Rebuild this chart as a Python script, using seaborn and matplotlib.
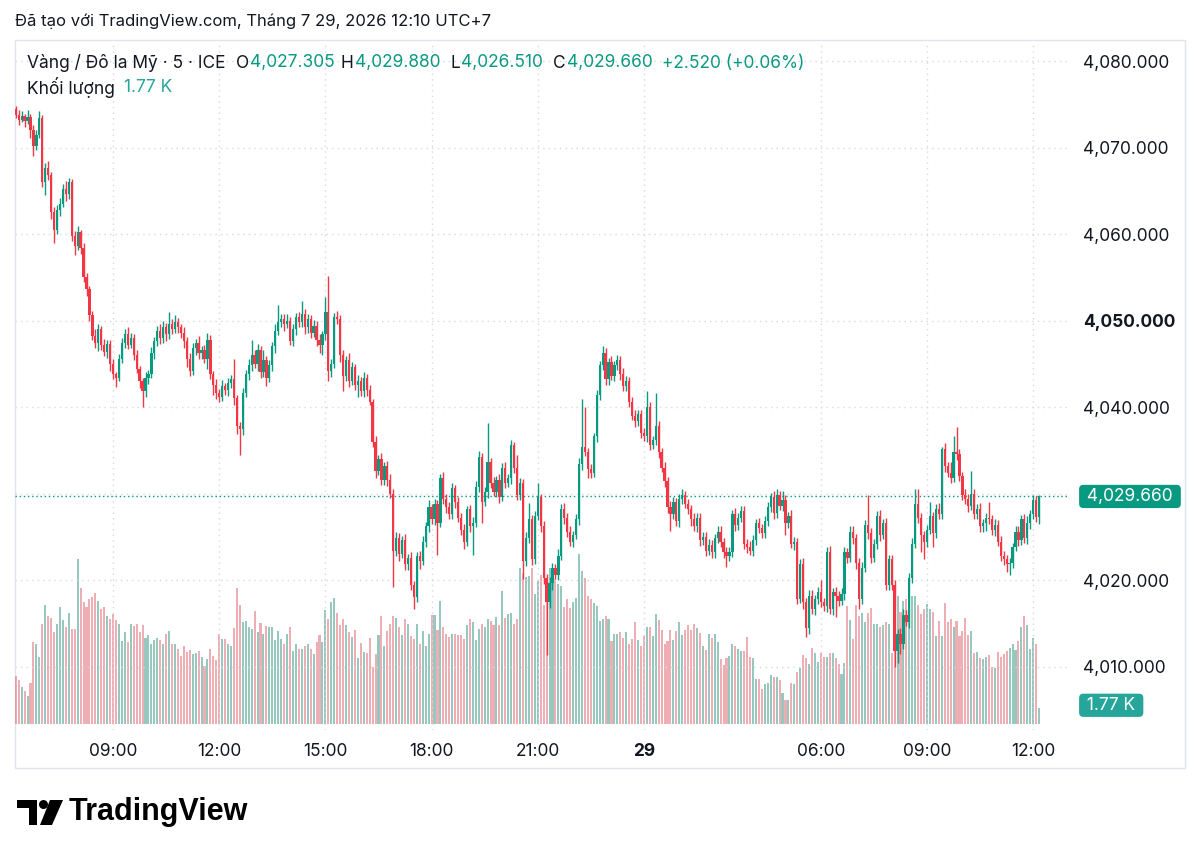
import numpy as np
import pandas as pd
import matplotlib
matplotlib.use("Agg")
import matplotlib.pyplot as plt
import matplotlib.patches as mpatches
from matplotlib.transforms import blended_transform_factory
import seaborn as sns

# 5-minute candles, index 0 = 06:15 on the 28th, last = 12:10 on the 29th
# closes, section by section
close_a = [4073.8, 4073.2, 4073.6, 4073.1, 4073.5, 4072.0, 4070.2, 4071.5, 4073.4, 4066.0,
           4067.6, 4066.8, 4062.5, 4060.5, 4062.8, 4063.5, 4065.2, 4064.6, 4066.0, 4059.8,
           4058.6, 4060.2, 4058.4, 4055.0, 4053.6, 4050.6, 4048.2, 4047.4, 4049.0, 4047.2,
           4046.4, 4047.3, 4045.0, 4043.8, 4043.4, 4045.6, 4047.4, 4048.4, 4047.2, 4048.0,
           4046.0, 4044.4, 4043.0]
close_b = [4041.8, 4043.4, 4043.8, 4046.2, 4047.6, 4048.8, 4048.0, 4049.2, 4048.4, 4049.6,
           4049.0, 4049.8, 4049.2, 4048.6, 4047.6, 4045.6, 4044.2, 4046.8, 4047.4, 4046.2,
           4046.6, 4045.6, 4047.8, 4043.8, 4042.6, 4041.6, 4041.2, 4042.4, 4042.0, 4042.8,
           4043.2, 4041.0, 4037.8, 4037.4, 4041.6, 4043.8, 4044.8, 4046.0, 4045.0, 4046.6,
           4044.0, 4045.4]
close_c = [4043.4, 4044.8, 4047.0, 4048.8, 4049.8, 4050.2, 4049.6, 4050.0, 4047.6, 4049.0,
           4050.4, 4049.8, 4050.8, 4049.2, 4050.2, 4048.6, 4049.4, 4047.8, 4047.2, 4048.4,
           4051.0, 4044.2, 4045.0, 4050.4, 4050.2, 4046.0, 4043.6, 4045.4, 4043.0, 4044.6,
           4042.6, 4043.0, 4041.8, 4043.4, 4042.0, 4040.6, 4036.0, 4032.6, 4034.0, 4031.6,
           4033.2, 4031.6]
close_d = [4030.0, 4023.4, 4024.8, 4023.0, 4024.6, 4021.8, 4022.6, 4019.4, 4018.0, 4022.8,
           4022.2, 4024.4, 4026.2, 4028.4, 4027.0, 4028.8, 4026.6, 4031.8, 4029.4, 4028.4,
           4027.6, 4030.6, 4029.0, 4027.2, 4025.8, 4024.4, 4028.2, 4026.2, 4026.6, 4030.8,
           4034.2, 4029.0, 4030.2, 4033.6, 4031.2, 4030.2, 4031.6, 4029.6, 4033.0, 4031.2,
           4031.8, 4035.6, 4033.0]
close_e = [4029.8, 4031.2, 4022.2, 4024.8, 4027.0, 4022.4, 4027.4, 4029.6, 4026.2, 4020.2,
           4017.4, 4019.6, 4021.4, 4020.6, 4022.8, 4028.2, 4027.2, 4025.6, 4024.4, 4025.2,
           4027.0, 4033.4, 4035.4, 4034.8, 4032.8, 4032.4, 4036.6, 4041.4, 4044.8, 4046.2,
           4043.2, 4045.2, 4043.6, 4044.8, 4045.4, 4043.8, 4042.4, 4043.0, 4040.6, 4039.0,
           4038.4, 4039.2]
close_f = [4037.0, 4036.6, 4040.0, 4035.6, 4036.2, 4037.8, 4034.8, 4033.0, 4031.4, 4028.4,
           4027.6, 4029.0, 4026.8, 4029.4, 4029.8, 4028.8, 4028.2, 4027.0, 4026.2, 4027.2,
           4024.6, 4025.0, 4023.4, 4024.0, 4023.2, 4024.8, 4025.6, 4024.4, 4023.2, 4022.8,
           4023.2, 4027.6, 4026.4, 4027.2, 4028.0, 4024.2, 4023.8, 4023.4, 4024.6, 4026.6,
           4026.0, 4025.4, 4026.8]
close_g = [4028.4, 4029.6, 4027.8, 4029.8, 4028.6, 4029.2, 4026.6, 4027.4, 4024.2, 4024.4,
           4017.8, 4021.8, 4017.4, 4014.4, 4018.2, 4016.6, 4017.8, 4018.6, 4017.4, 4017.0,
           4023.2, 4016.6, 4018.6, 4018.2, 4017.6, 4018.4, 4023.2, 4022.6, 4025.6, 4024.8,
           4022.0, 4017.8, 4021.4, 4026.4, 4025.4, 4022.6, 4024.2, 4027.4, 4025.2, 4026.6,
           4019.4, 4022.4]
close_h = [4019.4, 4011.8, 4013.8, 4012.6, 4016.0, 4015.2, 4020.2, 4024.2, 4028.8, 4027.2,
           4025.2, 4024.4, 4025.8, 4027.4, 4025.4, 4028.2, 4027.6, 4035.2, 4033.2, 4032.4,
           4031.8, 4034.8, 4034.6, 4032.0, 4029.8, 4029.4, 4028.6, 4030.0, 4027.6, 4028.2,
           4026.2, 4026.6, 4027.2, 4027.0, 4025.8, 4026.4, 4024.4, 4022.8, 4022.4, 4021.8,
           4022.0, 4023.8, 4025.6, 4024.6, 4027.0, 4024.8, 4026.6, 4027.6, 4029.2, 4027.305,
           4029.66]
first_open = 4074.4

# wick lengths above / below the body
up_a = [0.4,0.5,0.6,0.3,0.8,0.4,0.6,0.5,0.8,0.4, 0.6,0.8,0.4,0.6,0.5,0.7,0.6,0.9,0.5,0.4,
        0.5,0.7,0.3,0.6,0.5,0.4,0.5,0.8,0.6,0.4, 0.7,0.5,0.4,0.6,0.3,0.5,0.6,0.6,0.8,0.5, 0.4,0.6,0.3]
dn_a = [0.4,0.6,0.3,0.7,0.4,0.9,1.2,0.5,0.4,0.6, 1.5,0.6,0.8,1.5,0.5,0.7,0.4,0.8,0.6,0.6,
        1.0,0.5,0.7,0.6,0.8,0.7,0.5,0.6,0.9,0.6, 0.5,0.7,0.8,0.6,1.1,0.4,0.5,0.6,0.5,0.4, 0.6,0.5,0.8]
up_b = [0.4,0.6,0.5,0.7,0.5,0.6,0.8,0.7,0.5,1.4, 0.6,0.8,0.5,0.4,0.6,0.5,0.7,0.6,0.5,0.8,
        0.4,0.6,0.7,0.5,0.4,0.6,0.5,0.7,0.4,0.6, 0.5,2.3,0.4,0.5,0.6,0.5,0.7,1.8,0.6,0.7, 0.5,1.2]
dn_b = [1.8,0.6,0.7,0.5,0.6,0.5,0.7,0.6,0.8,0.5, 0.6,0.4,0.7,0.6,0.8,1.0,0.6,0.5,0.8,0.6,
        0.7,0.5,1.2,0.6,1.2,0.7,0.6,0.5,0.6,0.7, 0.6,0.8,0.9,3.0,0.6,0.5,0.7,0.6,0.5,0.8, 0.6,0.5]
up_c = [0.5,0.6,0.5,0.8,2.0,0.6,0.5,0.7,0.4,0.6, 0.5,0.6,1.4,0.5,0.6,0.4,0.7,0.5,0.6,0.4,
        1.7,4.2,0.6,0.5,0.7,0.4,0.6,0.5,0.8,0.6, 0.4,0.7,0.5,0.6,0.4,0.5,0.3,0.6,0.5,0.7, 0.4,0.6]
dn_c = [1.0,0.5,0.6,0.7,0.5,0.6,0.8,0.5,0.4,0.6, 0.7,0.5,0.6,0.8,0.7,0.6,0.5,0.7,0.9,1.2,
        0.6,1.2,0.7,0.5,0.6,0.8,1.8,0.6,0.7,0.5, 0.6,1.4,0.5,0.6,0.7,0.4,0.6,0.8,0.5,0.6, 0.6,0.7]
up_d = [0.6,0.5,0.8,0.6,0.5,0.7,0.4,0.6,0.5,0.4, 0.6,0.7,0.5,0.8,0.4,0.6,0.4,0.4,0.7,0.6,
        0.6,0.6,0.4,0.6,0.5,0.7,0.4,0.5,0.7,0.6, 0.7,0.5,0.6,4.5,0.5,0.7,0.4,0.6,0.5,0.7, 0.5,0.6,0.4]
dn_d = [0.5,4.2,0.6,0.8,0.5,0.7,0.6,0.5,1.3,0.6, 0.9,0.5,0.6,0.7,0.5,0.6,3.7,0.5,0.6,0.7,
        0.5,0.6,0.7,0.5,0.6,0.8,0.5,0.6,3.3,0.5, 0.6,2.4,0.5,0.7,0.6,0.5,0.6,0.7,0.5,0.6, 0.5,0.7,0.6]
up_e = [1.4,0.6,0.5,0.7,1.9,0.5,0.6,1.6,0.4,0.6, 0.5,0.7,0.6,0.5,0.8,0.6,0.7,0.5,0.6,0.5,
        0.6,0.7,5.5,4.6,0.5,0.6,0.4,0.6,0.5,0.8, 0.6,0.5,0.7,0.5,0.6,0.5,0.7,0.6,0.5,0.6, 0.7,0.5]
dn_e = [0.6,0.5,2.1,0.6,0.5,0.7,0.6,0.5,0.6,0.7, 6.1,0.6,0.7,0.5,0.6,0.5,0.7,0.6,0.5,0.6,
        0.5,0.6,0.7,0.5,1.0,0.6,0.5,0.7,0.6,0.5, 0.6,0.7,0.5,0.6,0.5,0.7,0.6,0.5,0.6,0.5, 0.7,0.6]
up_f = [0.5,0.6,1.8,0.6,0.5,3.8,0.6,0.5,0.6,0.5, 0.7,0.6,0.5,0.6,0.7,0.5,0.6,0.5,0.7,0.6,
        0.5,0.6,0.5,0.7,0.6,0.5,0.6,0.7,0.5,0.6, 0.6,0.5,0.7,0.6,0.5,0.6,0.5,0.7,0.6,0.5, 0.6,0.5,0.6]
dn_f = [0.6,0.5,0.7,0.6,0.5,0.6,0.7,0.5,0.6,0.7, 1.9,0.6,0.5,0.7,0.6,0.5,0.6,0.7,0.5,0.6,
        0.7,0.5,0.6,0.5,0.7,0.6,0.5,0.6,0.7,1.3, 0.6,0.5,0.7,0.6,0.5,0.6,0.7,0.5,0.6,0.5, 0.6,0.5,0.6]
up_g = [0.6,0.5,0.7,0.7,0.5,1.1,0.6,0.5,0.7,0.6, 0.5,0.6,0.7,0.5,0.6,0.7,0.5,0.6,1.4,0.5,
        0.6,0.7,0.5,0.6,0.5,0.7,0.6,0.5,0.7,0.6, 0.5,0.6,0.7,0.5,3.4,0.6,0.5,0.6,0.7,0.5, 0.6,0.5]
dn_g = [0.6,0.5,0.7,0.6,0.5,0.6,1.4,0.6,0.5,0.7, 0.6,0.5,0.7,1.0,0.6,0.5,0.7,0.6,0.5,0.6,
        0.7,0.5,0.6,2.5,0.6,0.5,0.7,0.6,0.5,0.6, 0.7,1.2,0.6,0.5,0.7,0.6,0.5,0.6,0.7,0.5, 0.6,0.5]
up_h = [0.5,0.6,0.5,0.7,0.6,0.5,0.6,0.7,1.7,1.7, 0.6,0.5,0.6,1.6,0.5,0.6,0.7,0.2,0.6,0.5,
        1.2,1.9,2.9,0.6,0.5,0.7,0.6,2.6,0.5,0.6, 0.7,0.5,0.6,1.8,0.5,0.6,0.5,0.7,0.6,0.5,
        0.6,0.5,0.7,0.6,0.5,0.6,0.8,0.5,0.6,0.5, 0.22]
dn_h = [0.6,1.8,1.4,1.2,0.6,0.5,0.7,0.6,0.5,0.6, 2.0,2.0,0.6,0.5,1.6,0.6,0.5,0.6,0.7,0.5,
        0.6,0.5,0.7,0.6,0.5,0.6,0.7,0.5,0.6,0.5, 0.7,0.6,0.9,0.5,0.6,0.7,0.5,0.6,0.7,0.9,
        1.2,0.6,0.5,0.7,0.6,0.5,0.6,0.7,0.5,0.6, 0.795]

# volume, thousands of contracts
vol_a = [5.3,4.9,4.1,3.6,3.1,4.5,9.1,8.9,7.4,11.1, 13.2,12,11.7,10.2,11.1,12.9,11.5,10.7,12.3,10.5,
         10.5,18.2,15,13.5,12.9,13.8,14.1,14.5,13.6,12.7, 12.9,11.9,11.6,12.2,11.5,11.1,9.2,10.2,9.1,11.1,
         10.8,11.1,10.2]
vol_b = [11,9.5,9.9,8.8,9.3,9.5,9.3,8.8,10,10.3, 8.9,8.8,8.3,7.5,8.6,8,8.2,7.7,7.8,8.1,
         7.4,6.4,7.2,8.3,7.5,7.1,10,9.4,9.4,8.8, 8.6,10.6,15.1,13.2,11.3,11.4,10.7,10.5,12.5,10.2,
         11.2,10]
vol_c = [10.8,10.7,10.7,9.3,10.3,9.4,8.8,10,10.7,8.1, 8.8,8.3,8.3,8.6,8.8,8.3,7.7,9.1,9.8,9.1,
         12.6,11.6,13.5,13.9,12.3,11,11.6,11,10.2,9.6, 10.4,7.3,9,8,7.8,9.5,6.3,7.7,9.8,11.9,
         8.6,10.3]
vol_d = [11.1,11.9,11.7,10.7,9.9,11.6,11.1,9.7,9.4,11.1, 8.9,10.3,8.6,10,12.1,12.1,10.4,13.6,10.7,10,
         9.6,10,10,9.8,9.8,9.4,11,11.6,11.3,9.3, 10.5,11.1,10.7,11.6,11.4,11,11.8,11,14.7,11.7,
         12.2,12.3,11.1]
vol_e = [11.6,17.3,16.7,16.3,16.4,17.3,14.4,15.8,16.5,13.2, 15.1,17.3,16.9,16,15.5,15.3,12.9,13.8,12.8,13.5,
         13.9,18.8,16.9,16.1,14.2,13.8,13.4,13,11.4,11.6, 12,11.6,9.2,10,10,10.2,9.5,10.2,8.8,9.4,
         11.3,9.3]
vol_f = [8.6,9.7,10.7,10.7,9.7,12.2,11.5,10.4,8.9,9.2, 10.4,9.3,10.3,11.3,9.8,10.4,11,10.4,11.1,10.6,
         10.1,8.6,8.2,10,9.5,10,9.1,7.2,6.5,7.3, 7.5,8.8,8.6,8.3,8.1,8.1,9.6,7.4,7.3,5,
         5,3.9,4.4]
vol_g = [4.5,5.4,5.2,5.2,4.9,3.4,2.7,2.7,4.5,4.4, 5.7,6.2,7.6,7.3,6.6,8.4,7.9,6.9,7.9,7.4,
         7.4,7.8,7.8,7.3,6.6,5.5,6.7,13.1,11.5,9.4, 13.2,11.9,12.3,11.3,12.3,12.8,11.1,11.1,10.7,11,
         11.3,11.1]
vol_h = [7.8,14.7,14.2,12.4,13.6,13.8,15.5,14.2,14.2,13.2, 12.2,12.7,13.3,12.7,12.4,9.7,11.4,9.7,13.4,11.3,
         11.6,10.7,11.4,9.7,10.3,11.7,9.8,10.3,7.9,8, 7.3,7.2,7.4,7.6,6.3,6.2,8,7.4,7.7,8.1,
         8.4,8.8,8.2,9.2,10.7,11.9,11,8.3,9.5,8.8, 1.77]

tick_idx = [33, 69, 105, 141, 177, 213, 273, 309, 345]
tick_lab = ["09:00", "12:00", "15:00", "18:00", "21:00", "29", "06:00", "09:00", "12:00"]
price_ticks = [4010, 4020, 4030, 4040, 4050, 4060, 4070, 4080]
last_price = 4029.66

GREEN = "#089981"
RED = "#f23645"
INK = "#131722"
GRID = "#d6d9e0"

sns.set_theme(style="white")
plt.rcParams["font.family"] = ["Inter", "DejaVu Sans"]

c = np.array(close_a + close_b + close_c + close_d + close_e + close_f + close_g + close_h)
o = np.concatenate([[first_open], c[:-1]])
up = np.array(up_a + up_b + up_c + up_d + up_e + up_f + up_g + up_h)
dn = np.array(dn_a + dn_b + dn_c + dn_d + dn_e + dn_f + dn_g + dn_h)
vol = np.array(vol_a + vol_b + vol_c + vol_d + vol_e + vol_f + vol_g + vol_h)
idx = np.arange(len(c))
hi = np.maximum(o, c) + up
lo = np.minimum(o, c) - dn
rising = c >= o
col = np.where(rising, GREEN, RED)

W, H = 1200, 857
fig = plt.figure(figsize=(12, 8.57), dpi=100)
fig.patch.set_facecolor("white")


def fx(px):
    return px / W


def fy(py):
    return 1 - py / H


ax = fig.add_axes([fx(15), fy(730), (1068 - 15) / W, (730 - 45) / H])
ax2 = ax.twinx()
ax.set_zorder(2)
ax2.set_zorder(1)
ax.patch.set_visible(False)

# volume histogram
df = pd.DataFrame({"i": idx, "vol": vol, "dir": np.where(rising, "up", "down")})
sns.barplot(data=df, x="i", y="vol", hue="dir", palette={"up": GREEN, "down": RED},
            dodge=False, native_scale=True, width=0.7, alpha=0.45, errorbar=None,
            legend=False, linewidth=0, ax=ax2)
px_per_k = 16 / 1.77
ax2.set_ylim(-6 / px_per_k, (724 - 45) / px_per_k)
ax2.set_yticks([])
ax2.set_ylabel("")
ax2.set_xlabel("")

# candles
ax.vlines(idx, lo, hi, colors=col, linewidth=1.0, zorder=3)
ax.bar(idx, np.maximum(np.abs(c - o), 0.12), bottom=np.minimum(o, c), width=0.76,
       color=col, linewidth=0, zorder=4)

ax.set_xlim(-0.25, 356.8)
ax.set_ylim(4002.66, 4081.85)
ax.set_xticks(tick_idx, tick_lab)
ax.yaxis.tick_right()
# the 4,030 label sits under the last-price tag, so it is left blank
ax.set_yticks(price_ticks, ["" if p == 4030 else f"{p:,.3f}" for p in price_ticks])
ax.tick_params(axis="y", length=0, pad=11, labelsize=12.5, labelcolor=INK)
ax.tick_params(axis="x", length=0, pad=9, labelsize=12.5, labelcolor=INK)
ax.tick_params(axis="both", which="both", left=False, bottom=False)
for t in ax.get_xticklabels():
    if t.get_text() == "29":
        t.set_fontweight("bold")
for t in ax.get_yticklabels():
    if t.get_text() == "4,050.000":
        t.set_fontweight("bold")
ax.grid(True, color=GRID, linestyle=(0, (1, 3)), linewidth=1.0)
ax2.grid(False)
for a in (ax, ax2):
    for s in a.spines.values():
        s.set_visible(False)

# last price line and labels
ax.axhline(last_price, color=GREEN, linewidth=1.0, linestyle=(0, (1, 2)), zorder=2)
tr = blended_transform_factory(ax.transAxes, ax.transData)
ax.text(1.0135, last_price, " 4,029.660 ", transform=tr, ha="left", va="center",
        fontsize=12.5, color="white", zorder=6, clip_on=False,
        bbox=dict(boxstyle="round,pad=0.18,rounding_size=0.25", fc=GREEN, ec="none"))
tr2 = blended_transform_factory(ax2.transAxes, ax2.transData)
ax2.text(1.0135, vol[-1] + 0.3, " 1.77 K ", transform=tr2, ha="left", va="center",
         fontsize=12.5, color="white", clip_on=False,
         bbox=dict(boxstyle="round,pad=0.18,rounding_size=0.25", fc="#26a69a", ec="none"))

# frame around the chart
fig.add_artist(mpatches.Rectangle((fx(15), fy(768)), (1185 - 15) / W, (768 - 40) / H,
                                  transform=fig.transFigure, fill=False,
                                  edgecolor="#e0e3eb", linewidth=1.0))

# header and legend
fig.text(fx(15), fy(21), "Đã tạo với TradingView.com, Tháng 7 29, 2026 12:10 UTC+7",
         fontsize=12, color=INK, va="center", ha="left")
legend_y = fy(63)
parts = [(27, "Vàng / Đô la Mỹ · 5 · ICE", INK), (236, "O", INK), (250, "4,027.305", GREEN),
         (341, "H", INK), (355, "4,029.880", GREEN), (450, "L", INK), (461, "4,026.510", GREEN),
         (553, "C", INK), (567, "4,029.660", GREEN), (662, "+2.520 (+0.06%)", GREEN)]
for x0, s, cc in parts:
    fig.text(fx(x0), legend_y, s, fontsize=12.5, color=cc, va="center", ha="left")
fig.text(fx(27), fy(88), "Khối lượng", fontsize=12.5, color=INK, va="center", ha="left")
fig.text(fx(124), fy(88), "1.77 K", fontsize=12.5, color="#26a69a", va="center", ha="left")

# TradingView logo
def P(x, y):
    return (x / 100, (H - y) / 100)


logo = fig.dpi_scale_trans
fig.add_artist(mpatches.Polygon([P(17, 800), P(37, 800), P(37, 825), P(29, 825), P(29, 808),
                                 P(17, 808)], closed=True, fc="black", ec="none", transform=logo))
fig.add_artist(mpatches.Circle(P(43.5, 804.5), 0.045, fc="black", ec="none", transform=logo))
fig.add_artist(mpatches.Polygon([P(50, 800), P(63, 800), P(52, 825), P(40, 825)],
                                closed=True, fc="black", ec="none", transform=logo))
fig.text(fx(69), fy(812), "TradingView", fontsize=22, fontweight="bold", color="black",
         family=["Liberation Sans", "DejaVu Sans"], va="center", ha="left")

fig.savefig("out.png", dpi=100, facecolor="white")
